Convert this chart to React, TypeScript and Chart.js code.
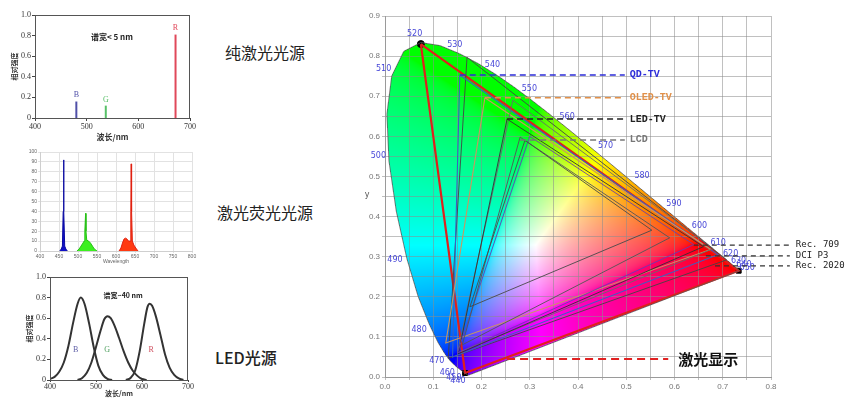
import React, { useEffect, useRef } from "react";
import { Chart, registerables } from "chart.js";
Chart.register(...registerables);

// ---------- Panel 1: pure laser ----------
const pureLabels = ["B", "G", "R"];
const pureNm = [480, 537, 672];
const pureIntensity = [0.16, 0.12, 0.81];
const pureColors = ["#5050a8", "#58c068", "#e0485a"];

// ---------- Panel 2: laser phosphor ----------
const phBlueNm = [452, 456, 459, 461, 462, 463, 465, 468, 472];
const phBlueVal = [0, 2, 5, 40, 92, 40, 5, 2, 0];
const phGreenNm = [497, 503, 508, 513, 516, 518, 520, 521, 523, 528, 533, 538, 543, 550];
const phGreenVal = [0, 2, 5, 8, 10, 20, 38, 20, 11, 10, 8, 5, 2, 0];
const phRedNm = [608, 613, 617, 621, 625, 629, 633, 637, 639, 640, 641, 643, 647, 652, 658];
const phRedVal = [0, 3, 8, 12, 13, 12, 10, 10, 40, 88, 40, 10, 6, 3, 0];

// ---------- Panel 3: LED ----------
const ledBNm = [400, 410, 420, 430, 440, 450, 460, 467, 475, 485, 495, 505, 515, 525, 535];
const ledBVal = [0.01, 0.03, 0.08, 0.17, 0.33, 0.55, 0.74, 0.8, 0.74, 0.55, 0.32, 0.14, 0.05, 0.01, 0];
const ledGNm = [460, 470, 480, 490, 500, 510, 518, 525, 532, 540, 550, 560, 570, 580, 590, 600, 610];
const ledGVal = [0, 0.02, 0.07, 0.17, 0.32, 0.48, 0.59, 0.62, 0.6, 0.53, 0.41, 0.28, 0.17, 0.09, 0.04, 0.01, 0];
const ledRNm = [565, 575, 585, 595, 605, 612, 617, 622, 630, 640, 650, 660, 670, 680, 690];
const ledRVal = [0, 0.02, 0.09, 0.28, 0.55, 0.71, 0.74, 0.72, 0.62, 0.44, 0.25, 0.12, 0.05, 0.015, 0];

// ---------- CIE 1931 ----------
const locusNm = [380, 390, 400, 410, 420, 430, 440, 445, 450, 455, 460, 465, 470, 475, 480, 485, 490, 495, 500, 505, 510, 515, 520, 525, 530, 535, 540, 545, 550, 555, 560, 565, 570, 575, 580, 585, 590, 595, 600, 605, 610, 615, 620, 625, 630, 635, 640, 650, 660, 680, 700];
const locusX = [0.1741, 0.1738, 0.1733, 0.1726, 0.1714, 0.1689, 0.1644, 0.1611, 0.1566, 0.151, 0.144, 0.1355, 0.1241, 0.1096, 0.0913, 0.0687, 0.0454, 0.0235, 0.0082, 0.0039, 0.0139, 0.0389, 0.0743, 0.1142, 0.1547, 0.1929, 0.2296, 0.2658, 0.3016, 0.3373, 0.3731, 0.4087, 0.4441, 0.4788, 0.5125, 0.5448, 0.5752, 0.6029, 0.627, 0.6482, 0.6658, 0.6801, 0.6915, 0.7006, 0.7079, 0.714, 0.719, 0.726, 0.73, 0.7334, 0.7347];
const locusY = [0.005, 0.0049, 0.0048, 0.0048, 0.0051, 0.0069, 0.0109, 0.0138, 0.0177, 0.0227, 0.0297, 0.0399, 0.0578, 0.0868, 0.1327, 0.2007, 0.295, 0.4127, 0.5384, 0.6548, 0.7502, 0.812, 0.8338, 0.8262, 0.8059, 0.7816, 0.7543, 0.7243, 0.6923, 0.6589, 0.6245, 0.5896, 0.5547, 0.5202, 0.4866, 0.4544, 0.4242, 0.3965, 0.3725, 0.3514, 0.334, 0.3197, 0.3083, 0.2993, 0.292, 0.2859, 0.2809, 0.274, 0.27, 0.2666, 0.2653];
const labeledNm = [440, 450, 460, 470, 480, 490, 500, 510, 520, 530, 540, 550, 560, 570, 580, 590, 600, 610, 620, 630, 640, 650];

const gamutRec2020 = [[0.17, 0.797], [0.708, 0.292], [0.131, 0.046]];
const gamutQD = [[0.155, 0.753], [0.69, 0.305], [0.14, 0.05]];
const gamutOLED = [[0.207, 0.696], [0.675, 0.318], [0.126, 0.085]];
const gamutP3 = [[0.265, 0.69], [0.68, 0.32], [0.15, 0.06]];
const gamutLED = [[0.253, 0.643], [0.66, 0.325], [0.152, 0.058]];
const gamut709 = [[0.3, 0.6], [0.64, 0.33], [0.15, 0.06]];
const gamutLCD = [[0.28, 0.598], [0.59, 0.347], [0.16, 0.08]];
const gamutOld = [[0.29, 0.59], [0.553, 0.366], [0.176, 0.175]];
const gamutLaser = [[0.0743, 0.83], [0.733, 0.265], [0.166, 0.01]];

const tvText = ["QD-TV", "OLED-TV", "LED-TV", "LCD"];
const tvY = [0.753, 0.696, 0.643, 0.591];
const tvX0 = [0.155, 0.207, 0.253, 0.28];
const tvColors = ["#2d2dd8", "#e0904a", "#222222", "#777777"];
const tvLineEnd = 0.497;

const stdText = ["Rec. 709", "DCI P3", "Rec. 2020"];
const stdY = [0.329, 0.302, 0.277];
const stdX0 = [0.64, 0.665, 0.684];
const stdLineEnd = 0.839;

const laserText = "激光显示";
const laserY = 0.045;
const laserX0 = 0.253;
const laserX1 = 0.587;

// ---------- helpers ----------
const pts = (xs: number[], ys: number[]) => xs.map((x, i) => ({ x, y: ys[i] }));
const tri = (g: number[][]) => [...g, g[0]].map(([x, y]) => ({ x, y }));

type TextItem = { text: string; x: number; y: number; color: string; font: string; align?: CanvasTextAlign };
function textPlugin(id: string, items: TextItem[]) {
  return {
    id,
    afterDatasetsDraw(chart: any) {
      const { ctx } = chart;
      const sx = chart.scales.x, sy = chart.scales.y;
      items.forEach((it) => {
        ctx.save();
        ctx.font = it.font;
        ctx.fillStyle = it.color;
        ctx.textAlign = it.align || "center";
        ctx.textBaseline = "middle";
        ctx.fillText(it.text, sx.getPixelForValue(it.x), sy.getPixelForValue(it.y));
        ctx.restore();
      });
    },
  };
}
function framePlugin(color: string) {
  return {
    id: "frame",
    afterDatasetsDraw(chart: any) {
      const { ctx, chartArea: a } = chart;
      ctx.save();
      ctx.strokeStyle = color;
      ctx.lineWidth = 1;
      ctx.strokeRect(a.left + 0.5, a.top + 0.5, a.right - a.left - 1, a.bottom - a.top);
      ctx.restore();
    },
  };
}

const SERIF = "'Liberation Serif', 'Noto Sans CJK SC', serif";
const CJK = "'Noto Sans CJK SC', sans-serif";

function makePure(canvas: HTMLCanvasElement) {
  return new Chart(canvas, {
    type: "scatter",
    data: {
      datasets: pureNm.map((nm, i) => ({
        data: [{ x: nm, y: 0 }, { x: nm, y: pureIntensity[i] }],
        showLine: true,
        borderColor: pureColors[i],
        borderWidth: 2,
        pointRadius: 0,
      })),
    },
    options: {
      responsive: false,
      animation: false,
      layout: { padding: { left: 10, right: 10, top: 15, bottom: 0 } },
      plugins: { legend: { display: false }, tooltip: { enabled: false } },
      scales: {
        x: {
          type: "linear", min: 400, max: 700,
          ticks: { stepSize: 100, color: "#333", font: { family: SERIF, size: 8 }, padding: 1, maxRotation: 0 },
          grid: { drawOnChartArea: false, tickLength: 3, color: "#444" },
          border: { color: "#444" },
          title: { display: true, text: "波长/nm", color: "#333", font: { family: CJK, size: 8, weight: "bold" }, padding: 0 },
          afterFit: (s: any) => { s.height = 24; },
        },
        y: {
          min: 0, max: 1,
          ticks: { stepSize: 0.2, color: "#333", font: { family: SERIF, size: 8 }, padding: 1, callback: (v: any) => (v === 0 ? "0" : Number(v).toFixed(1)) },
          grid: { drawOnChartArea: false, tickLength: 3, color: "#444" },
          border: { color: "#444" },
          title: { display: true, text: "相对强度", color: "#333", font: { family: CJK, size: 7, weight: "bold" }, padding: 0 },
          afterFit: (s: any) => { s.width = 25; },
        },
      },
    },
    plugins: [
      framePlugin("#555"),
      textPlugin("t1", [
        { text: "谱宽< 5 nm", x: 549, y: 0.79, color: "#222", font: `bold 8px ${CJK}` },
        ...pureLabels.map((l, i) => ({ text: l, x: pureNm[i], y: pureIntensity[i] + 0.06, color: pureColors[i], font: `8px ${SERIF}` })),
      ]),
    ],
  } as any);
}

function makePhosphor(canvas: HTMLCanvasElement) {
  const ds = (xs: number[], ys: number[], c: string, b: string) => ({
    data: pts(xs, ys), showLine: true, fill: "origin", backgroundColor: c, borderColor: b, borderWidth: 1, pointRadius: 0,
  });
  return new Chart(canvas, {
    type: "scatter",
    data: {
      datasets: [
        ds(phBlueNm, phBlueVal, "#1010c8", "#0a0aa0"),
        ds(phGreenNm, phGreenVal, "#3cf020", "#28c018"),
        ds(phRedNm, phRedVal, "#ff3a12", "#e02010"),
      ],
    },
    options: {
      responsive: false,
      animation: false,
      layout: { padding: { left: 0, right: 8, top: 12, bottom: 0 } },
      plugins: { legend: { display: false }, tooltip: { enabled: false } },
      scales: {
        x: {
          type: "linear", min: 400, max: 800,
          ticks: { stepSize: 50, color: "#666", font: { size: 5 }, padding: 1, maxRotation: 0 },
          grid: { color: "#e2e2e2", tickLength: 2 },
          border: { color: "#cfcfcf" },
          title: { display: true, text: "Wavelength", color: "#666", font: { size: 5 }, padding: 0 },
          afterFit: (s: any) => { s.height = 14; },
        },
        y: {
          min: 0, max: 100,
          ticks: { stepSize: 10, color: "#666", font: { size: 5 }, padding: 1 },
          grid: { color: "#e2e2e2", tickLength: 2 },
          border: { color: "#cfcfcf" },
          afterFit: (s: any) => { s.width = 40; },
        },
      },
    },
  } as any);
}

function makeLed(canvas: HTMLCanvasElement) {
  const ds = (xs: number[], ys: number[]) => ({
    data: pts(xs, ys), showLine: true, borderColor: "#333", borderWidth: 2, pointRadius: 0, cubicInterpolationMode: "monotone",
  });
  return new Chart(canvas, {
    type: "scatter",
    data: { datasets: [ds(ledBNm, ledBVal), ds(ledGNm, ledGVal), ds(ledRNm, ledRVal)] },
    options: {
      responsive: false,
      animation: false,
      layout: { padding: { left: 25, right: 12, top: 12, bottom: 0 } },
      plugins: { legend: { display: false }, tooltip: { enabled: false } },
      scales: {
        x: {
          type: "linear", min: 400, max: 700,
          ticks: { stepSize: 100, color: "#333", font: { family: SERIF, size: 8 }, padding: 0, maxRotation: 0 },
          grid: { drawOnChartArea: false, tickLength: 2, color: "#444" },
          border: { color: "#444" },
          title: { display: true, text: "波长/nm", color: "#333", font: { family: CJK, size: 7, weight: "bold" }, padding: 0 },
          afterFit: (s: any) => { s.height = 18; },
        },
        y: {
          min: 0, max: 1,
          ticks: { stepSize: 0.2, color: "#333", font: { family: SERIF, size: 8 }, padding: 1, callback: (v: any) => (v === 0 ? "0" : Number(v).toFixed(1)) },
          grid: { drawOnChartArea: false, tickLength: 3, color: "#444" },
          border: { color: "#444" },
          title: { display: true, text: "相对强度", color: "#333", font: { family: CJK, size: 7, weight: "bold" }, padding: 0 },
          afterFit: (s: any) => { s.width = 25; },
        },
      },
    },
    plugins: [
      framePlugin("#555"),
      textPlugin("t3", [
        { text: "谱宽~40 nm", x: 559, y: 0.82, color: "#222", font: `bold 7px ${CJK}` },
        { text: "B", x: 456, y: 0.29, color: "#6060a8", font: `8px ${SERIF}` },
        { text: "G", x: 524, y: 0.29, color: "#50a060", font: `8px ${SERIF}` },
        { text: "R", x: 620, y: 0.29, color: "#d05060", font: `8px ${SERIF}` },
      ]),
    ],
  } as any);
}

const cieFill = {
  id: "cieFill",
  beforeDraw(chart: any) {
    const { ctx, chartArea: a } = chart;
    const sx = chart.scales.x, sy = chart.scales.y;
    const L = Math.round(a.left), T = Math.round(a.top);
    const w = Math.round(a.right) - L, h = Math.round(a.bottom) - T;
    const poly = locusX.map((x, i) => [sx.getPixelForValue(x) - L, sy.getPixelForValue(locusY[i]) - T]);
    const off = document.createElement("canvas");
    off.width = w; off.height = h;
    const octx = off.getContext("2d")!;
    const img = octx.createImageData(w, h);
    const d = img.data;
    const n = poly.length;
    const gm = (v: number) => (v <= 0.0031308 ? 12.92 * v : 1.055 * Math.pow(v, 1 / 2.4) - 0.055);
    for (let j = 0; j < h; j++) {
      const py = j + 0.5;
      const xs: number[] = [];
      for (let k = 0; k < n; k++) {
        const [x1, y1] = poly[k];
        const [x2, y2] = poly[(k + 1) % n];
        if ((y1 <= py && y2 > py) || (y2 <= py && y1 > py)) {
          xs.push(x1 + ((py - y1) / (y2 - y1)) * (x2 - x1));
        }
      }
      xs.sort((p, q) => p - q);
      const cy = sy.getValueForPixel(py + T);
      if (cy <= 0.0005) continue;
      for (let s = 0; s + 1 < xs.length; s += 2) {
        const i0 = Math.max(0, Math.ceil(xs[s] - 0.5)), i1 = Math.min(w - 1, Math.floor(xs[s + 1] - 0.5));
        for (let i = i0; i <= i1; i++) {
          const cx = sx.getValueForPixel(i + 0.5 + L);
          const X = cx / cy, Y = 1, Z = (1 - cx - cy) / cy;
          let r = 3.2406 * X - 1.5372 * Y - 0.4986 * Z;
          let g = -0.9689 * X + 1.8758 * Y + 0.0415 * Z;
          let b = 0.0557 * X - 0.204 * Y + 1.057 * Z;
          r = Math.max(0, r); g = Math.max(0, g); b = Math.max(0, b);
          const m = Math.max(r, g, b) || 1;
          r /= m; g /= m; b /= m;
          const o = (j * w + i) * 4;
          d[o] = Math.round(gm(r) * 255);
          d[o + 1] = Math.round(gm(g) * 255);
          d[o + 2] = Math.round(gm(b) * 255);
          d[o + 3] = 255;
        }
      }
    }
    octx.putImageData(img, 0, 0);
    ctx.drawImage(off, L, T);
  },
};

const cieLabels = {
  id: "cieLabels",
  afterDatasetsDraw(chart: any) {
    const { ctx } = chart;
    const sx = chart.scales.x, sy = chart.scales.y;
    const wx = sx.getPixelForValue(0.33), wy = sy.getPixelForValue(0.33);
    ctx.save();
    ctx.font = "8px 'DejaVu Sans', sans-serif";
    ctx.fillStyle = "#4848d8";
    ctx.textAlign = "center";
    ctx.textBaseline = "middle";
    labeledNm.forEach((nm) => {
      const k = locusNm.indexOf(nm);
      const px = sx.getPixelForValue(locusX[k]), py = sy.getPixelForValue(locusY[k]);
      let dx = px - wx, dy = py - wy;
      const len = Math.hypot(dx, dy) || 1;
      dx /= len; dy /= len;
      ctx.fillText(String(nm), px + dx * 12, py + dy * 10);
    });
    const dash = (x0: number, x1: number, y: number, color: string, lw: number, pat: number[]) => {
      ctx.save();
      ctx.strokeStyle = color; ctx.lineWidth = lw; ctx.setLineDash(pat);
      ctx.beginPath();
      ctx.moveTo(sx.getPixelForValue(x0), sy.getPixelForValue(y));
      ctx.lineTo(sx.getPixelForValue(x1), sy.getPixelForValue(y));
      ctx.stroke();
      ctx.restore();
    };
    ctx.textAlign = "left";
    tvText.forEach((t, i) => {
      dash(tvX0[i], tvLineEnd, tvY[i], tvColors[i], 1.5, [6, 4]);
      ctx.fillStyle = tvColors[i];
      ctx.font = "bold 10px 'Liberation Mono', 'DejaVu Sans Mono', monospace";
      ctx.fillText(t, sx.getPixelForValue(tvLineEnd) + 5, sy.getPixelForValue(tvY[i]));
    });
    stdText.forEach((t, i) => {
      dash(stdX0[i], stdLineEnd, stdY[i], "#333", 1.3, [5, 4]);
      ctx.fillStyle = "#222";
      ctx.font = "9px 'DejaVu Sans Mono', monospace";
      ctx.fillText(t, sx.getPixelForValue(stdLineEnd) + 6, sy.getPixelForValue(stdY[i]));
    });
    dash(laserX0, laserX1, laserY, "#e02020", 2, [8, 5]);
    ctx.fillStyle = "#111";
    ctx.font = `bold 15px ${CJK}`;
    ctx.fillText(laserText, sx.getPixelForValue(laserX1) + 10, sy.getPixelForValue(laserY));
    ctx.font = "8px 'DejaVu Sans', sans-serif";
    ctx.fillStyle = "#555";
    ctx.textAlign = "center";
    ctx.fillText("y", sx.getPixelForValue(0) - 18, sy.getPixelForValue(0.454));
    ctx.restore();
  },
};

function makeCie(canvas: HTMLCanvasElement) {
  const line = (g: number[][], color: string, w = 0.9) => ({
    data: tri(g), showLine: true, borderColor: color, borderWidth: w, pointRadius: 0, fill: false,
  });
  const locus = [...pts(locusX, locusY), { x: locusX[0], y: locusY[0] }];
  return new Chart(canvas, {
    type: "scatter",
    data: {
      datasets: [
        { data: locus, showLine: true, borderColor: "#5a5a5a", borderWidth: 0.8, pointRadius: 0 },
        line(gamutOld, "#4a4a4a"),
        line(gamutLCD, "#555555"),
        line(gamut709, "#6a3fb0"),
        line(gamutLED, "#333333"),
        line(gamutP3, "#6a6a6a"),
        line(gamutOLED, "#c89860", 1.1),
        line(gamutQD, "#3a62c0", 1.1),
        line(gamutRec2020, "#444444"),
        line(gamutLaser, "#e0201c", 2.2),
        {
          data: gamutLaser.map(([x, y]) => ({ x, y })),
          pointRadius: [3.5, 3.5, 3.5],
          pointStyle: ["circle", "rect", "rect"],
          backgroundColor: "#000",
          borderColor: "#000",
          showLine: false,
        },
      ],
    },
    options: {
      responsive: false,
      animation: false,
      layout: { padding: { left: 0, right: 75, top: 16, bottom: 0 } },
      plugins: { legend: { display: false }, tooltip: { enabled: false } },
      scales: {
        x: {
          type: "linear", min: 0, max: 0.8,
          ticks: {
            stepSize: 0.05, autoSkip: false, maxRotation: 0, color: "#777", font: { size: 8 }, padding: 2,
            callback: (v: any) => (Math.round(Number(v) * 100) % 10 === 0 ? Number(v).toFixed(1) : ""),
          },
          grid: { color: "rgba(140,140,140,0.55)", tickLength: 3 },
          border: { color: "#9a9a9a" },
          afterFit: (s: any) => { s.height = 21; },
        },
        y: {
          min: 0, max: 0.9,
          ticks: {
            stepSize: 0.05, autoSkip: false, color: "#777", font: { size: 8 }, padding: 2,
            callback: (v: any) => (Math.round(Number(v) * 100) % 10 === 0 ? Number(v).toFixed(1) : ""),
          },
          grid: { color: "rgba(140,140,140,0.55)", tickLength: 3 },
          border: { color: "#9a9a9a" },
          afterFit: (s: any) => { s.width = 35; },
        },
      },
    },
    plugins: [cieFill, cieLabels],
  } as any);
}

function ChartCanvas(props: { left: number; top: number; width: number; height: number; make: (c: HTMLCanvasElement) => Chart }) {
  const ref = useRef<HTMLCanvasElement>(null);
  useEffect(() => {
    const c = props.make(ref.current!);
    return () => c.destroy();
  }, []);
  return (
    <canvas
      ref={ref}
      width={props.width}
      height={props.height}
      style={{ position: "absolute", left: props.left, top: props.top, width: props.width, height: props.height }}
    />
  );
}

const labelStyle = (left: number, top: number, weight = 400): React.CSSProperties => ({
  position: "absolute", left, top, fontFamily: CJK, fontSize: 16, lineHeight: "20px", color: "#222", fontWeight: weight, whiteSpace: "nowrap",
});

export default function App() {
  return (
    <div style={{ position: "absolute", left: 0, top: 0, width: 846, height: 398, background: "#fff", overflow: "hidden" }}>
      <ChartCanvas left={0} top={0} width={200} height={142} make={makePure} />
      <ChartCanvas left={0} top={140} width={200} height={125} make={makePhosphor} />
      <ChartCanvas left={0} top={265} width={200} height={133} make={makeLed} />
      <div style={labelStyle(225, 42)}>纯激光光源</div>
      <div style={labelStyle(217, 202)}>激光荧光光源</div>
      <div style={labelStyle(215, 347, 500)}>LED光源</div>
      <ChartCanvas left={350} top={0} width={496} height={398} make={makeCie} />
    </div>
  );
}
